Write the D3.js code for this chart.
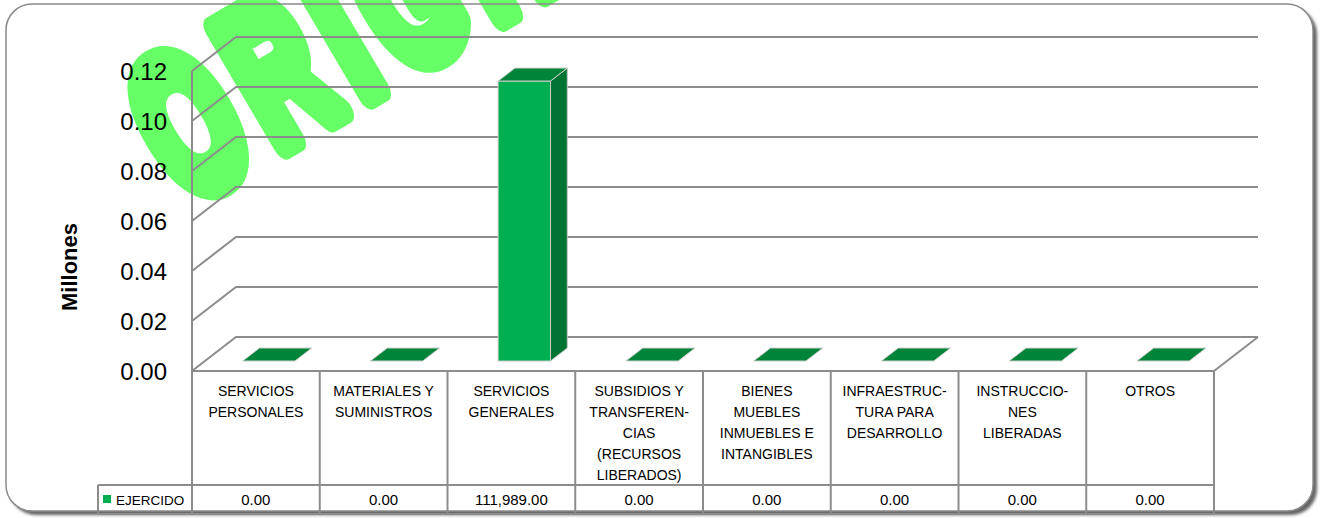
<!DOCTYPE html>
<html>
<head>
<meta charset="utf-8">
<script src="https://cdn.jsdelivr.net/npm/d3@7"></script>
<style>
  html, body { margin: 0; padding: 0; background: #fff; }
  svg { display: block; }
</style>
</head>
<body>
<div id="chart"></div>
<script>
// Ejercido por capitulo del gasto, 3D column chart with data table

const categories = [
    ['SERVICIOS', 'PERSONALES'],
    ['MATERIALES Y', 'SUMINISTROS'],
    ['SERVICIOS', 'GENERALES'],
    ['SUBSIDIOS Y', 'TRANSFEREN-', 'CIAS', '(RECURSOS', 'LIBERADOS)'],
    ['BIENES', 'MUEBLES', 'INMUEBLES E', 'INTANGIBLES'],
    ['INFRAESTRUC-', 'TURA PARA', 'DESARROLLO'],
    ['INSTRUCCIO-', 'NES', 'LIBERADAS'],
    ['OTROS']
];
const ejercido = [0, 0, 111989, 0, 0, 0, 0, 0];
const yTicks = [0, 0.02, 0.04, 0.06, 0.08, 0.10, 0.12];
const seriesName = 'EJERCIDO';
const yTitle = 'Millones';
const watermark = 'ORIGINAL';

(function () {
    const W = 1324, H = 518;
    const DX = 44, DY = 34;            // depth offset of the back wall
    const z0 = 0.294, z1 = 0.676;      // bar depth (front / back)
    const font = 'Liberation Sans, Arial, sans-serif';
    const lineCol = '#8c8c8c';

    const svg = d3.select('#chart').append('svg')
        .attr('width', W).attr('height', H);

    const defs = svg.append('defs');
    const f = defs.append('filter').attr('id', 'shadow')
        .attr('x', '-5%').attr('y', '-5%').attr('width', '110%').attr('height', '115%');
    f.append('feDropShadow').attr('dx', 4).attr('dy', 4).attr('stdDeviation', 1.5)
        .attr('flood-color', '#404040').attr('flood-opacity', 0.8);

    // frame
    svg.append('rect')
        .attr('x', 6).attr('y', 4).attr('width', 1307).attr('height', 507)
        .attr('rx', 26).attr('ry', 26)
        .attr('fill', '#fff').attr('filter', 'url(#shadow)');

    // watermark (behind chart), condensed by a horizontal scale
    svg.append('text')
        .attr('transform', 'translate(185,204) rotate(-30.5) scale(0.576,1)')
        .attr('font-family', font).attr('font-weight', 'bold')
        .attr('font-size', 197).attr('letter-spacing', 29)
        .attr('fill', '#66ff66').attr('stroke', '#66ff66')
        .attr('stroke-width', 28).attr('stroke-linejoin', 'round')
        .text(watermark);

    svg.append('rect')
        .attr('x', 6).attr('y', 4).attr('width', 1307).attr('height', 507)
        .attr('rx', 26).attr('ry', 26)
        .attr('fill', 'none').attr('stroke', '#8a8a8a').attr('stroke-width', 1.5);

    const x = d3.scaleBand().domain(d3.range(categories.length)).range([192, 1214]);
    const y = d3.scaleLinear().domain([0, 0.12]).range([371, 71]);
    const P = (px, py, z) => [px + z * DX, py - z * DY];

    const g = svg.append('g');

    // side wall + back wall gridlines
    yTicks.forEach(t => {
        const a = P(x.range()[0], y(t), 0), b = P(x.range()[0], y(t), 1), c = P(x.range()[1], y(t), 1);
        g.append('polyline')
            .attr('points', [a, b, c].map(p => p.join(',')).join(' '))
            .attr('fill', 'none').attr('stroke', lineCol).attr('stroke-width', 2);
    });
    // floor right edge
    const fr0 = P(x.range()[1], y(0), 0), fr1 = P(x.range()[1], y(0), 1);
    g.append('line').attr('x1', fr0[0]).attr('y1', fr0[1]).attr('x2', fr1[0]).attr('y2', fr1[1])
        .attr('stroke', lineCol).attr('stroke-width', 2);
    // front vertical axis
    g.append('line').attr('x1', 192).attr('x2', 192).attr('y1', y(0.12)).attr('y2', 514)
        .attr('stroke', lineCol).attr('stroke-width', 2);

    // y labels
    g.selectAll('.ylab').data(yTicks).enter().append('text')
        .attr('x', 167).attr('y', d => y(d)).attr('dy', '0.36em')
        .attr('text-anchor', 'end')
        .attr('font-family', font).attr('font-size', 24).attr('fill', '#000')
        .text(d => d3.format('.2f')(d));

    svg.append('text')
        .attr('transform', 'translate(77,267) rotate(-90)')
        .attr('text-anchor', 'middle')
        .attr('font-family', font).attr('font-weight', 'bold').attr('font-size', 22)
        .text(yTitle);

    // bars
    const bw = x.bandwidth() * 0.41;
    const bars = g.selectAll('.bar').data(ejercido).enter().append('g');
    bars.each(function (v, i) {
        const sel = d3.select(this);
        const xl = x(i) + (x.bandwidth() - bw) / 2;
        const xr = xl + bw;
        const yb = y(0), yt = y(v / 1e6);
        const pts = arr => arr.map(p => p.join(',')).join(' ');
        if (v > 0) {
            sel.append('polygon') // side
                .attr('points', pts([P(xr, yb, z0), P(xr, yb, z1), P(xr, yt, z1), P(xr, yt, z0)]))
                .attr('fill', '#007432').attr('stroke', '#c8c8c8').attr('stroke-width', 1);
            sel.append('polygon') // front
                .attr('points', pts([P(xl, yb, z0), P(xr, yb, z0), P(xr, yt, z0), P(xl, yt, z0)]))
                .attr('fill', '#00b050').attr('stroke', '#c8c8c8').attr('stroke-width', 1);
        }
        sel.append('polygon') // top
            .attr('points', pts([P(xl, yt, z0), P(xr, yt, z0), P(xr, yt, z1), P(xl, yt, z1)]))
            .attr('fill', '#00843a').attr('stroke', '#d0d0d0').attr('stroke-width', 1);
    });

    // data table
    const t = svg.append('g');
    const rowTop = 371, rowMid = 485, rowBot = 514;
    t.append('line').attr('x1', 192).attr('x2', 1214).attr('y1', rowTop).attr('y2', rowTop)
        .attr('stroke', lineCol).attr('stroke-width', 2);
    [rowMid, rowBot].forEach(yy => t.append('line')
        .attr('x1', 98).attr('x2', 1214).attr('y1', yy).attr('y2', yy)
        .attr('stroke', lineCol).attr('stroke-width', 2));
    t.append('line').attr('x1', 98).attr('x2', 98).attr('y1', rowMid).attr('y2', rowBot)
        .attr('stroke', lineCol).attr('stroke-width', 2);
    d3.range(1, categories.length + 1).forEach(i => {
        const xx = i < categories.length ? x(i) : x.range()[1];
        t.append('line').attr('x1', xx).attr('x2', xx).attr('y1', rowTop).attr('y2', rowBot)
            .attr('stroke', lineCol).attr('stroke-width', 2);
    });

    categories.forEach((lines, i) => {
        const tx = t.append('text')
            .attr('text-anchor', 'middle')
            .attr('font-family', font).attr('font-size', 14).attr('fill', '#000');
        lines.forEach((s, j) => tx.append('tspan')
            .attr('x', x(i) + x.bandwidth() / 2).attr('y', 395.5 + j * 21).text(s));
    });

    t.selectAll('.val').data(ejercido).enter().append('text')
        .attr('x', (d, i) => x(i) + x.bandwidth() / 2).attr('y', 505)
        .attr('text-anchor', 'middle')
        .attr('font-family', font).attr('font-size', 15).attr('fill', '#000')
        .text(d => d3.format(',.2f')(d));

    // legend key in the table
    t.append('rect').attr('x', 103).attr('y', 495).attr('width', 8).attr('height', 8)
        .attr('fill', '#00b050');
    t.append('text').attr('x', 116).attr('y', 505)
        .attr('font-family', font).attr('font-size', 13.5).attr('fill', '#000')
        .text(seriesName);
})();
</script>
</body>
</html>
